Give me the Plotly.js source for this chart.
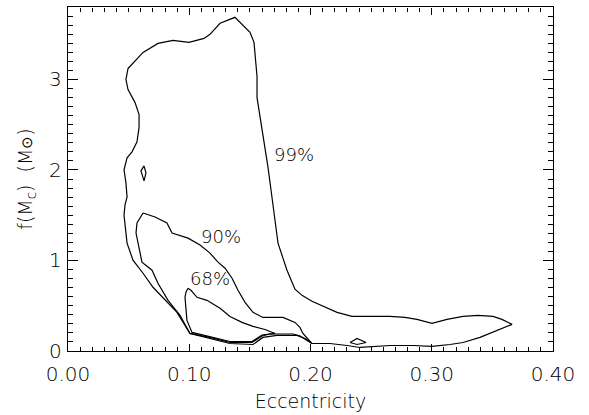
<!DOCTYPE html>
<html>
<head>
<meta charset="utf-8">
<script src="https://cdn.plot.ly/plotly-3.0.1.min.js"></script>
<style>
  html, body { margin: 0; padding: 0; background: #fff; }
  #chart { width: 589px; height: 415px; }
</style>
</head>
<body>
<div id="chart"></div>
<script>
// Confidence contours in the eccentricity / mass-function plane.

// 99% contour (main region)
const c99x = [0.0495, 0.0619, 0.0742, 0.0866, 0.0998, 0.1122, 0.1171, 0.1254, 0.1377, 0.1501,
  0.1534, 0.1559, 0.1559, 0.1600, 0.1625, 0.1649, 0.1682, 0.1732, 0.1773, 0.1806,
  0.1872, 0.1930, 0.2012, 0.2103, 0.2219, 0.2342, 0.2573, 0.2656, 0.2779, 0.2878,
  0.3002, 0.3126, 0.3258, 0.3381, 0.3505, 0.3579, 0.3662, 0.3579, 0.3480, 0.3398,
  0.3258, 0.3151, 0.3002, 0.2845, 0.2656, 0.2515, 0.2408, 0.2301, 0.2161, 0.2012,
  0.1955, 0.1889, 0.1724, 0.1608, 0.1526, 0.1336, 0.1171, 0.1006, 0.0899, 0.0784,
  0.0701, 0.0619, 0.0536, 0.0487, 0.0462, 0.0470, 0.0487, 0.0478, 0.0462, 0.0487,
  0.0528, 0.0569, 0.0586, 0.0586, 0.0553, 0.0495, 0.0478, 0.0495];
const c99y = [3.121, 3.298, 3.398, 3.431, 3.409, 3.453, 3.498, 3.620, 3.686, 3.520,
  3.409, 3.032, 2.799, 2.467, 2.278, 2.034, 1.701, 1.192, 1.026, 0.892,
  0.682, 0.615, 0.549, 0.493, 0.427, 0.383, 0.383, 0.383, 0.371, 0.349,
  0.305, 0.349, 0.383, 0.394, 0.383, 0.349, 0.294, 0.249, 0.194, 0.150,
  0.094, 0.072, 0.050, 0.061, 0.061, 0.050, 0.039, 0.061, 0.083, 0.083,
  0.139, 0.172, 0.172, 0.150, 0.072, 0.083, 0.139, 0.194, 0.427, 0.593,
  0.704, 0.859, 1.003, 1.192, 1.502, 1.613, 1.702, 1.857, 2.001, 2.134,
  2.200, 2.311, 2.467, 2.611, 2.744, 2.888, 2.999, 3.121];

// 99% small islands
const c99aX = [0.0627, 0.0643, 0.0627, 0.0602, 0.0627];
const c99aY = [2.045, 1.968, 1.879, 1.990, 2.045];
const c99bX = [0.2326, 0.2384, 0.2458, 0.2384, 0.2326];
const c99bY = [0.094, 0.139, 0.094, 0.072, 0.094];

// 90% contour
const c90x = [0.0619, 0.0718, 0.0816, 0.0858, 0.0990, 0.1089, 0.1171, 0.1237, 0.1295, 0.1353,
  0.1402, 0.1460, 0.1526, 0.1608, 0.1773, 0.1872, 0.1913, 0.1938, 0.2012, 0.1913,
  0.1856, 0.1666, 0.1600, 0.1518, 0.1336, 0.1171, 0.1006, 0.0924, 0.0825, 0.0742,
  0.0693, 0.0610, 0.0561, 0.0569, 0.0619];
const c90y = [1.524, 1.480, 1.414, 1.303, 1.247, 1.170, 1.081, 0.981, 0.915, 0.804,
  0.671, 0.538, 0.427, 0.371, 0.371, 0.316, 0.261, 0.194, 0.083, 0.166,
  0.188, 0.188, 0.166, 0.094, 0.094, 0.150, 0.194, 0.394, 0.560, 0.748,
  0.892, 0.981, 1.303, 1.414, 1.524];

// 68% contour
const c68x = [0.0990, 0.1014, 0.1064, 0.1146, 0.1254, 0.1336, 0.1435, 0.1526, 0.1625, 0.1707,
  0.1600, 0.1518, 0.1336, 0.1171, 0.1023, 0.0981, 0.0965, 0.0973, 0.0990];
const c68y = [0.693, 0.671, 0.593, 0.560, 0.471, 0.382, 0.316, 0.272, 0.238, 0.194,
  0.177, 0.105, 0.105, 0.161, 0.205, 0.338, 0.593, 0.649, 0.693];

// Contour labels
const labelText = ['99%', '90%', '68%'];
const labelX = [0.1864, 0.1262, 0.1171];
const labelY = [2.167, 1.269, 0.804];

// Axis ticks
const xRange = [0, 0.40];
const yRange = [0, 3.8];
const xTicks = [0.0, 0.1, 0.2, 0.3, 0.4];
const xTickText = ['0.00', '0.10', '0.20', '0.30', '0.40'];
const yTicks = [0, 1, 2, 3];
const yTickText = ['0', '1', '2', '3'];

const FONT = 'DejaVu Sans, Liberation Sans, sans-serif';
const lineStyle = { color: '#000', width: 1.2 };

function contour(x, y) {
  return { type: 'scatter', mode: 'lines', x: x, y: y, line: lineStyle,
           hoverinfo: 'skip', showlegend: false };
}

const traces = [
  contour(c99x, c99y),
  contour(c99aX, c99aY),
  contour(c99bX, c99bY),
  contour(c90x, c90y),
  contour(c68x, c68y),
  // invisible trace that anchors the top/right tick axes
  { type: 'scatter', mode: 'lines', x: xRange, y: yRange, xaxis: 'x2', yaxis: 'y2',
    line: { color: 'rgba(0,0,0,0)', width: 0 }, hoverinfo: 'skip', showlegend: false }
];

const annotations = labelText.map((t, i) => ({
  x: labelX[i], y: labelY[i], xref: 'x', yref: 'y', text: t,
  showarrow: false, font: { family: FONT, size: 18, color: '#000', weight: 300 }
}));

const xTickStyle = {
  range: xRange, tickvals: xTicks,
  ticks: 'inside', ticklen: 7, tickwidth: 1, tickcolor: '#000',
  minor: { dtick: 0.01, ticks: 'inside', ticklen: 4, tickwidth: 1, tickcolor: '#000' },
  showgrid: false, zeroline: false
};
const yTickStyle = {
  range: yRange, tickvals: yTicks,
  ticks: 'inside', ticklen: 10, tickwidth: 1, tickcolor: '#000',
  minor: { dtick: 0.1, ticks: 'inside', ticklen: 5, tickwidth: 1, tickcolor: '#000' },
  showgrid: false, zeroline: false
};

const layout = {
  width: 589, height: 415,
  margin: { l: 68, r: 36, t: 7, b: 64 },
  paper_bgcolor: '#fff', plot_bgcolor: '#fff',
  font: { family: FONT, size: 19, color: '#000', weight: 300 },
  showlegend: false,
  annotations: annotations,
  xaxis: Object.assign({}, xTickStyle, {
    ticktext: xTickText, tickfont: { family: FONT, size: 20 },
    showline: true, linecolor: '#000', linewidth: 1.2, mirror: true,
    ticklabelstandoff: 5,
    title: { text: 'Eccentricity', font: { family: FONT, size: 19 }, standoff: 9 }
  }),
  yaxis: Object.assign({}, yTickStyle, {
    ticktext: yTickText, tickfont: { family: FONT, size: 20 },
    showline: true, linecolor: '#000', linewidth: 1.2, mirror: true,
    ticklabelstandoff: 1,
    title: { text: 'f(M<sub>c</sub>)  (M<span style="font-size:15px">⊙</span>)',
             font: { family: FONT, size: 19 }, standoff: 11 }
  }),
  xaxis2: Object.assign({}, xTickStyle, {
    overlaying: 'x', side: 'top', anchor: 'free', position: 1,
    showticklabels: false, showline: false
  }),
  yaxis2: Object.assign({}, yTickStyle, {
    overlaying: 'y', side: 'right', anchor: 'free', position: 1,
    showticklabels: false, showline: false
  })
};

Plotly.newPlot('chart', traces, layout, { staticPlot: true, displayModeBar: false });
</script>
</body>
</html>
